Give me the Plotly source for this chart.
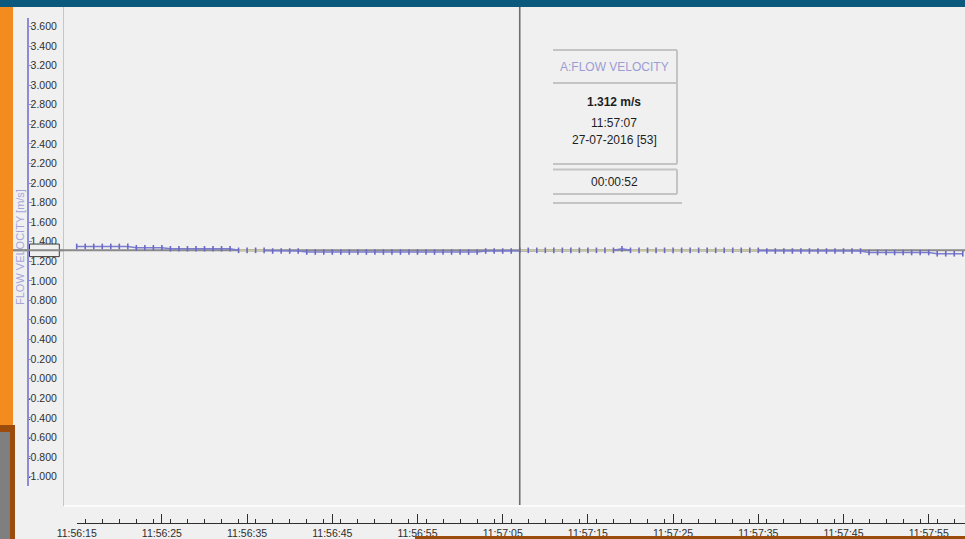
import pandas as pd
import plotly.graph_objects as go

# ---- logged channel A: flow velocity, one sample per second ----
START = "2016-07-27 11:56:15"
velocity = [
    1.352, 1.352, 1.352, 1.352, 1.352, 1.352, 1.352,
    1.338, 1.338, 1.338, 1.338,
    1.328, 1.328, 1.328, 1.328, 1.328, 1.328, 1.328, 1.328,
    1.312, 1.312, 1.312, 1.312,
    1.305, 1.305, 1.305, 1.305,
    1.295, 1.295, 1.295, 1.295, 1.295, 1.295, 1.295, 1.295, 1.295, 1.295,
    1.295, 1.295, 1.295, 1.295, 1.295, 1.295, 1.295, 1.295, 1.295, 1.295, 1.295,
    1.305, 1.305, 1.305, 1.305,
    1.312, 1.312, 1.312, 1.312, 1.312, 1.312, 1.312, 1.312, 1.312, 1.312, 1.312, 1.312,
    1.327,
    1.312, 1.312, 1.312, 1.312, 1.312, 1.312, 1.312, 1.312,
    1.312, 1.312, 1.312, 1.312, 1.312, 1.312, 1.312, 1.312,
    1.305, 1.305, 1.305, 1.305, 1.305, 1.305, 1.305, 1.305, 1.305, 1.305, 1.305, 1.305,
    1.290, 1.290, 1.290, 1.290, 1.290, 1.290, 1.290, 1.290,
    1.277, 1.277, 1.277, 1.277,
]
times = pd.date_range(START, periods=len(velocity), freq="s")
cursor_index = 52

y_ticks = [-1.0, -0.8, -0.6, -0.4, -0.2, 0.0, 0.2, 0.4, 0.6, 0.8, 1.0, 1.2,
           1.4, 1.6, 1.8, 2.0, 2.2, 2.4, 2.6, 2.8, 3.0, 3.2, 3.4, 3.6]
y_tick_text = [f"{v:.3f}" for v in y_ticks]

channel_name = "A:FLOW VELOCITY"
axis_title = "FLOW VELOCITY [m/s]"
unit = "m/s"

# ---- page geometry (pixels) ----
W, H = 965, 539
def px(x):
    return x / W
def py(y):
    return 1 - y / H

PX_PER_UNIT = 97.83          # vertical scale, pixels per m/s
PX_PER_SEC = 8.52            # horizontal scale, pixels per second
Y_REF_PIX, Y_REF_VAL = 26.5, 3.6
X0_PIX = 76.7                # pixel of the first sample

def val_at(pix):
    return Y_REF_VAL - (pix - Y_REF_PIX) / PX_PER_UNIT

def time_at(pix):
    return times[0] + pd.Timedelta(seconds=(pix - X0_PIX) / PX_PER_SEC)

PLOT_L, PLOT_T, PLOT_B = 64, 7, 506

FONT_NARROW = "Liberation Sans Narrow, Arial Narrow, Liberation Sans, Arial, sans-serif"
FONT = "Liberation Sans, Arial, sans-serif"
BLUE = "#7c7cd0"
OLIVE = "#cbc99e"
BG = "#f0f0f0"

cursor_val = velocity[cursor_index]
cursor_time = times[cursor_index]

fig = go.Figure()

# data line
fig.add_trace(go.Scatter(
    x=times, y=velocity, mode="lines",
    line=dict(color=BLUE, width=1.5), hoverinfo="skip", showlegend=False,
))
# where the trace runs along the cursor line the two colours combine
on_cursor = [v if v == cursor_val else None for v in velocity]
fig.add_trace(go.Scatter(
    x=times, y=on_cursor, mode="lines", connectgaps=False,
    line=dict(color=OLIVE, width=2.2), hoverinfo="skip", showlegend=False,
))
# sample markers
fig.add_trace(go.Scatter(
    x=times, y=velocity, mode="markers",
    marker=dict(symbol="line-ns", size=4, line=dict(color="#6a6ac4", width=1.6)),
    hoverinfo="skip", showlegend=False,
))
# empty trace that carries the detached time / value axes
fig.add_trace(go.Scatter(x=[], y=[], xaxis="x2", yaxis="y2",
                         showlegend=False, hoverinfo="skip"))

shapes = [
    # horizontal cursor line at the cursor value
    dict(type="line", xref="paper", yref="y", x0=px(13), x1=1,
         y0=cursor_val, y1=cursor_val, line=dict(color="#8a8a8a", width=2),
         layer="below"),
    # vertical cursor line at the cursor time
    dict(type="line", xref="x", yref="paper", x0=cursor_time, x1=cursor_time,
         y0=py(507), y1=py(PLOT_T), line=dict(color="#6e6e6e", width=1.6)),
    # plot area bottom edge
    dict(type="line", xref="paper", yref="paper", x0=px(PLOT_L), x1=1,
         y0=py(506), y1=py(506), line=dict(color="#fbfbfb", width=2)),
    # value marker box on the scale
    dict(type="rect", xref="paper", yref="y", x0=px(29.5), x1=px(59.3),
         y0=cursor_val - 6.3 / PX_PER_UNIT, y1=cursor_val + 6.3 / PX_PER_UNIT,
         fillcolor=BG, line=dict(color="#3a3a3a", width=1), layer="above"),
    dict(type="line", xref="paper", yref="y", x0=px(13), x1=px(PLOT_L),
         y0=cursor_val, y1=cursor_val, line=dict(color="#8a8a8a", width=2),
         layer="above"),
    # window chrome: top band, left band, lower-left panel, bottom strip
    dict(type="rect", xref="paper", yref="paper", x0=0, x1=1, y0=py(7), y1=1,
         fillcolor="#0b5a7e", line=dict(width=0), layer="above"),
    dict(type="rect", xref="paper", yref="paper", x0=0, x1=px(13), y0=py(425), y1=py(7),
         fillcolor="#f38b1e", line=dict(width=0), layer="above"),
    dict(type="rect", xref="paper", yref="paper", x0=0, x1=px(15), y0=0, y1=py(425),
         fillcolor="#9b4b0c", line=dict(width=0), layer="above"),
    dict(type="rect", xref="paper", yref="paper", x0=0, x1=px(10), y0=0, y1=py(432),
         fillcolor="#7f7f7f", line=dict(width=0), layer="above"),
    dict(type="rect", xref="paper", yref="paper", x0=px(415), x1=1, y0=0, y1=py(536),
         fillcolor="#9b4b0c", line=dict(width=0), layer="above"),
]

# readout panel
PANEL_L, PANEL_R = 553, 677
panel_col = "#c4c4c4"
for yy in (50, 83, 164, 169.5, 194):
    shapes.append(dict(type="line", xref="paper", yref="paper",
                       x0=px(PANEL_L), x1=px(PANEL_R), y0=py(yy), y1=py(yy),
                       line=dict(color=panel_col, width=2)))
shapes.append(dict(type="line", xref="paper", yref="paper",
                   x0=px(PANEL_L), x1=px(682), y0=py(203), y1=py(203),
                   line=dict(color=panel_col, width=2)))
for y0, y1 in ((50, 164), (169.5, 194)):
    shapes.append(dict(type="line", xref="paper", yref="paper",
                       x0=px(PANEL_R), x1=px(PANEL_R), y0=py(y1), y1=py(y0),
                       line=dict(color=panel_col, width=2)))

elapsed = int((cursor_time - times[0]).total_seconds())
elapsed_txt = f"{elapsed // 3600:02d}:{(elapsed % 3600) // 60:02d}:{elapsed % 60:02d}"
panel_cx = px(614)
annotations = [
    dict(text=channel_name, x=panel_cx, y=py(67), font=dict(color="#9c9cd4", size=12, family=FONT)),
    dict(text=f"<b>{cursor_val:.3f} {unit}</b>", x=panel_cx, y=py(102),
         font=dict(color="#1e1e1e", size=12, family=FONT)),
    dict(text=cursor_time.strftime("%H:%M:%S"), x=panel_cx, y=py(123),
         font=dict(color="#1e1e1e", size=12, family=FONT)),
    dict(text=f"{cursor_time.strftime('%d-%m-%Y')} [{cursor_index + 1}]", x=panel_cx, y=py(139.5),
         font=dict(color="#1e1e1e", size=12, family=FONT)),
    dict(text=elapsed_txt, x=panel_cx, y=py(182),
         font=dict(color="#1e1e1e", size=12, family=FONT)),
    dict(text=axis_title, x=px(20), y=py(247), textangle=-90,
         font=dict(color="#a4a4dc", size=11, family=FONT)),
]
for a in annotations:
    a.update(xref="paper", yref="paper", showarrow=False, xanchor="center", yanchor="middle")

fig.update_layout(
    width=W, height=H,
    margin=dict(l=0, r=0, t=0, b=0, pad=0, autoexpand=False),
    paper_bgcolor=BG, plot_bgcolor="rgba(0,0,0,0)",
    showlegend=False,
    shapes=shapes, annotations=annotations,
    xaxis=dict(
        domain=[px(PLOT_L), 1], type="date",
        range=[time_at(PLOT_L), time_at(W)],
        visible=False, showgrid=False, zeroline=False, automargin=False,
    ),
    yaxis=dict(
        domain=[py(PLOT_B), py(PLOT_T)],
        range=[val_at(PLOT_B), val_at(PLOT_T)],
        tickvals=y_ticks, ticktext=y_tick_text,
        ticks="", showgrid=False, zeroline=False, automargin=False,
        showline=True, linecolor="#c6c6c6", linewidth=1,
        tickfont=dict(family=FONT_NARROW, size=10.5, color="#2e2e2e"),
        ticklabelstandoff=4,
    ),
    xaxis2=dict(
        domain=[px(X0_PIX), 1], type="date", anchor="free", position=1 - 523 / H,
        range=[times[0], time_at(W)], automargin=False,
        tick0=times[0], dtick=10000, tickformat="%H:%M:%S",
        ticks="inside", ticklen=9, tickwidth=1, tickcolor="#2e2e2e",
        minor=dict(dtick=2000, ticks="inside", ticklen=4, tickwidth=1, tickcolor="#2e2e2e"),
        showline=True, linecolor="#2e2e2e", linewidth=1,
        showgrid=False, zeroline=False,
        tickfont=dict(family=FONT_NARROW, size=10.5, color="#2e2e2e"),
    ),
    yaxis2=dict(
        domain=[py(486), py(18)], anchor="free", position=px(28), side="right",
        range=[val_at(486), val_at(18)], automargin=False,
        tickvals=y_ticks, ticks="outside", ticklen=3, tickwidth=1, tickcolor="#8c8cd6",
        showline=True, linecolor="#8c8cd6", linewidth=2,
        showticklabels=False, showgrid=False, zeroline=False,
    ),
)

fig.write_html("out.html")
